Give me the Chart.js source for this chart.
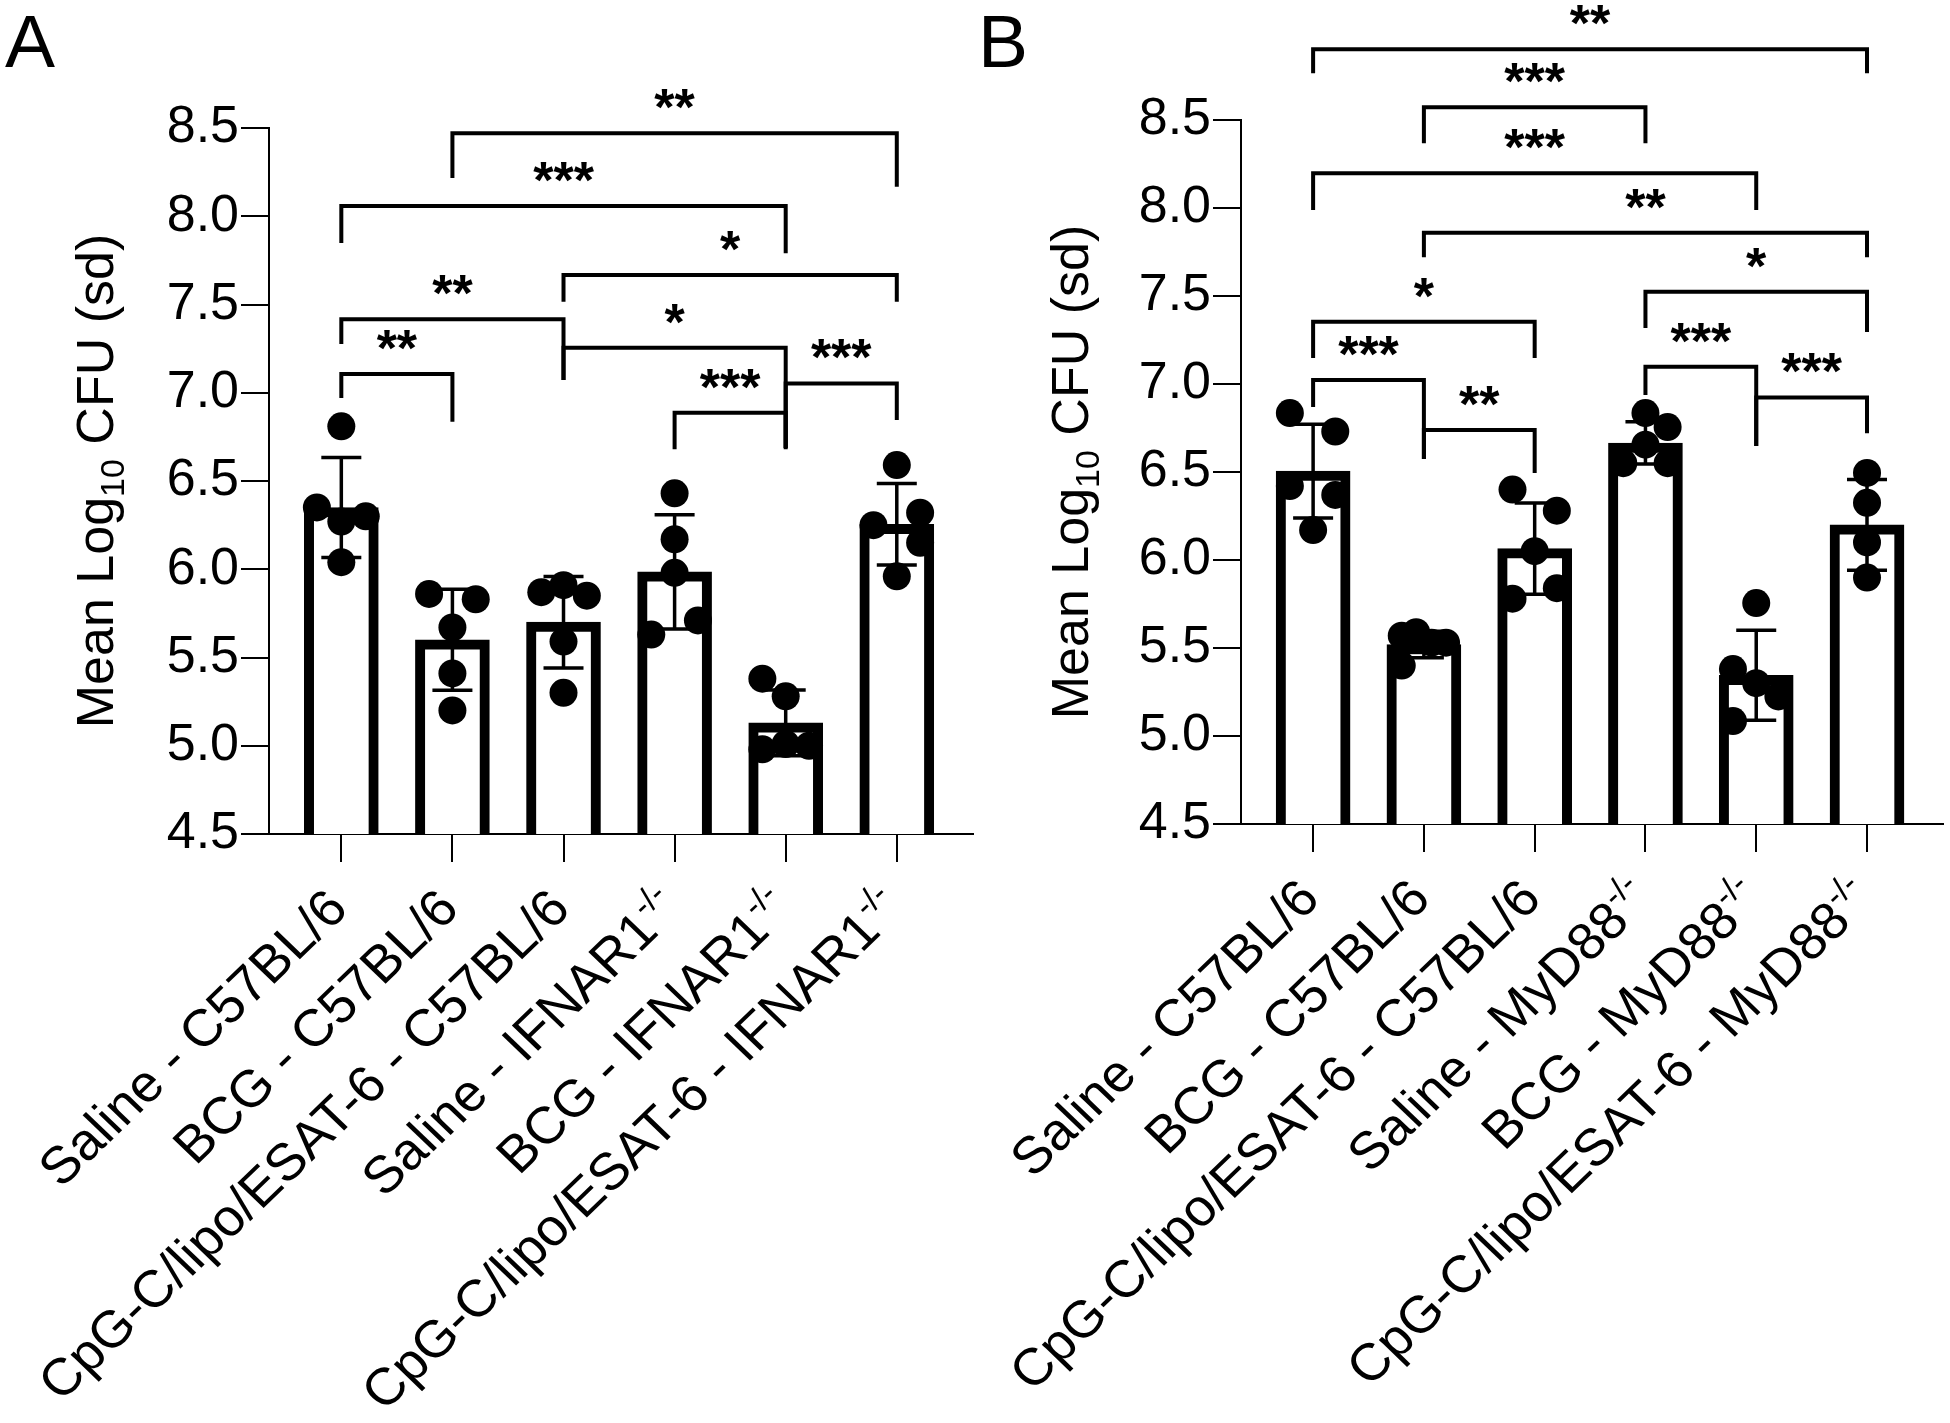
<!DOCTYPE html>
<html lang="en">
<head>
<meta charset="UTF-8">
<title>Mean Log10 CFU</title>
<script src="https://cdn.jsdelivr.net/npm/chart.js@4.4.1/dist/chart.umd.min.js"></script>
<style>
  html, body { margin: 0; padding: 0; background: #fff; }
  #wrap { position: relative; width: 1950px; height: 1423px; }
  .panel { position: absolute; top: 0; width: 975px; height: 1423px; }
  #panelA { left: 0; }
  #panelB { left: 975px; }
</style>
</head>
<body>
<div id="wrap">
  <div class="panel" id="panelA"><canvas id="chartA" width="975" height="1423"></canvas></div>
  <div class="panel" id="panelB"><canvas id="chartB" width="975" height="1423"></canvas></div>
</div>
<script>
// ---------- data ----------
const yTicks = [4.5, 5.0, 5.5, 6.0, 6.5, 7.0, 7.5, 8.0, 8.5];

// Panel A
const groupsA = ['Saline - C57BL/6', 'BCG - C57BL/6', 'CpG-C/lipo/ESAT-6 - C57BL/6',
                 'Saline - IFNAR1', 'BCG - IFNAR1', 'CpG-C/lipo/ESAT-6 - IFNAR1'];
const supA = ['', '', '', '-/-', '-/-', '-/-'];
const meansA = [6.35, 5.60, 5.70, 5.985, 5.13, 6.255];
const sdA = [0.283, 0.286, 0.259, 0.324, 0.186, 0.231];
const pointsA = [
  [6.81, 6.35, 6.27, 6.30, 6.04],
  [5.86, 5.83, 5.67, 5.41, 5.20],
  [5.87, 5.91, 5.85, 5.59, 5.30],
  [6.43, 6.17, 5.98, 5.71, 5.63],
  [5.38, 5.28, 4.98, 5.01, 5.00],
  [6.59, 6.32, 6.25, 6.15, 5.96]
];
// horizontal spread of the dots, in category units
const spreadA = [
  [0, -0.22, 0, 0.22, 0],
  [-0.21, 0.21, 0, 0, 0],
  [-0.2, 0, 0.21, 0, 0],
  [0, 0, 0, 0.21, -0.21],
  [-0.21, 0, -0.21, 0, 0.21],
  [0, 0.21, -0.21, 0.21, 0]
];
const bracketsA = [
  { from: 1, to: 5, y: 8.47,  legL: 8.217, legR: 8.167, text: '**' },
  { from: 0, to: 4, y: 8.058, legL: 7.848, legR: 7.79,  text: '***' },
  { from: 2, to: 5, y: 7.667, legL: 7.516, legR: 7.516, text: '*' },
  { from: 0, to: 2, y: 7.416, legL: 7.276, legR: 7.072, text: '**' },
  { from: 2, to: 4, y: 7.255, legL: 7.072, legR: 6.687, text: '*' },
  { from: 0, to: 1, y: 7.106, legL: 6.97,  legR: 6.836, text: '**' },
  { from: 3, to: 4, y: 6.887, legL: 6.68,  legR: 6.68,  text: '***' },
  { from: 4, to: 5, y: 7.053, legL: 6.687, legR: 6.846, text: '***' }
];

// Panel B
const groupsB = ['Saline - C57BL/6', 'BCG - C57BL/6', 'CpG-C/lipo/ESAT-6 - C57BL/6',
                 'Saline - MyD88', 'BCG - MyD88', 'CpG-C/lipo/ESAT-6 - MyD88'];
const supB = ['', '', '', '-/-', '-/-', '-/-'];
const meansB = [6.505, 5.52, 6.065, 6.665, 5.345, 6.20];
const sdB = [0.267, 0.075, 0.259, 0.12, 0.256, 0.258];
const pointsB = [
  [6.835, 6.73, 6.42, 6.37, 6.17],
  [5.57, 5.59, 5.53, 5.53, 5.40],
  [6.40, 6.28, 6.05, 5.84, 5.78],
  [6.835, 6.755, 6.655, 6.55, 6.55],
  [5.755, 5.38, 5.30, 5.225, 5.085],
  [6.495, 6.325, 6.10, 5.90]
];
const spreadB = [
  [-0.21, 0.2, -0.21, 0.2, 0],
  [-0.2, -0.07, 0.07, 0.2, -0.2],
  [-0.2, 0.2, 0, 0.2, -0.2],
  [0, 0.2, 0, -0.2, 0.2],
  [0, -0.21, 0, 0.2, -0.21],
  [0, 0, 0, 0]
];
const bracketsB = [
  { from: 0, to: 5, y: 8.902, legL: 8.765, legR: 8.765, text: '**' },
  { from: 1, to: 3, y: 8.572, legL: 8.368, legR: 8.368, text: '***' },
  { from: 0, to: 4, y: 8.197, legL: 7.989, legR: 7.989, text: '***' },
  { from: 1, to: 5, y: 7.86,  legL: 7.72,  legR: 7.72,  text: '**' },
  { from: 3, to: 5, y: 7.524, legL: 7.318, legR: 7.295, text: '*' },
  { from: 0, to: 2, y: 7.354, legL: 7.148, legR: 7.148, text: '*' },
  { from: 0, to: 1, y: 7.023, legL: 6.869, legR: 6.574, text: '***' },
  { from: 1, to: 2, y: 6.739, legL: 6.574, legR: 6.494, text: '**' },
  { from: 3, to: 4, y: 7.098, legL: 6.937, legR: 6.648, text: '***' },
  { from: 4, to: 5, y: 6.924, legL: 6.648, legR: 6.72,  text: '***' }
];

// ---------- drawing ----------
const FONT = "'Liberation Sans', Arial, Helvetica, sans-serif";
const LABEL_SIZE = 52;

function makePanel(canvasId, p) {
  const barData = p.means.map((m, i) => ({ x: i, y: m }));
  const dotData = [];
  p.points.forEach((grp, i) => grp.forEach((v, j) => dotData.push({ x: i + p.spread[i][j], y: v })));

  const overlay = {
    id: 'overlay',
    afterDatasetDraw(chart, args) {
      if (args.index !== 0) return;
      // SD error bars, drawn over the bars and under the dots
      const ctx = chart.ctx, xs = chart.scales.x, ys = chart.scales.y;
      ctx.save();
      ctx.strokeStyle = '#000';
      ctx.lineWidth = 3.5;
      p.means.forEach((m, i) => {
        const x = xs.getPixelForValue(i);
        const yt = ys.getPixelForValue(m + p.sd[i]);
        const yb = ys.getPixelForValue(m - p.sd[i]);
        ctx.beginPath();
        ctx.moveTo(x, yt); ctx.lineTo(x, yb);
        ctx.moveTo(x - 20, yt); ctx.lineTo(x + 20, yt);
        ctx.moveTo(x - 20, yb); ctx.lineTo(x + 20, yb);
        ctx.stroke();
      });
      ctx.restore();
    },
    afterDraw(chart) {
      const ctx = chart.ctx, xs = chart.scales.x, ys = chart.scales.y, area = chart.chartArea;
      ctx.save();
      ctx.fillStyle = '#000';
      ctx.strokeStyle = '#000';

      // significance brackets
      ctx.lineWidth = 4;
      ctx.lineJoin = 'miter';
      p.brackets.forEach(b => {
        const x1 = xs.getPixelForValue(b.from), x2 = xs.getPixelForValue(b.to);
        const y = ys.getPixelForValue(b.y);
        ctx.beginPath();
        ctx.moveTo(x1, ys.getPixelForValue(b.legL));
        ctx.lineTo(x1, y);
        ctx.lineTo(x2, y);
        ctx.lineTo(x2, ys.getPixelForValue(b.legR));
        ctx.stroke();
        ctx.font = 'bold 52px ' + FONT;
        ctx.textAlign = 'center';
        ctx.textBaseline = 'alphabetic';
        const m = ctx.measureText(b.text);
        const cy = y - 34;
        ctx.fillText(b.text, (x1 + x2) / 2, cy + (m.actualBoundingBoxAscent - m.actualBoundingBoxDescent) / 2);
      });

      // rotated group labels with superscript genotype
      // (the source figure is slightly wider than tall, so the 45 deg text is stretched a little)
      const capH = 0.716 * LABEL_SIZE;
      p.groups.forEach((name, i) => {
        const x = xs.getPixelForValue(i);
        ctx.save();
        ctx.translate(x - 5, area.bottom + 64);
        ctx.scale(1.04, 1);
        ctx.rotate(-Math.PI / 4);
        ctx.textAlign = 'left';
        ctx.textBaseline = 'alphabetic';
        ctx.font = LABEL_SIZE + 'px ' + FONT;
        const mainW = ctx.measureText(name).width;
        ctx.font = '33px ' + FONT;
        const supW = p.sups[i] ? ctx.measureText(p.sups[i]).width : 0;
        ctx.font = LABEL_SIZE + 'px ' + FONT;
        ctx.fillText(name, -(mainW + supW), capH / 2);
        if (p.sups[i]) {
          ctx.font = '33px ' + FONT;
          ctx.fillText(p.sups[i], -supW, capH / 2 - 21);
        }
        ctx.restore();
      });

      // y axis title with subscript
      const cy = (area.top + area.bottom) / 2;
      ctx.save();
      ctx.translate(113, cy);
      ctx.rotate(-Math.PI / 2);
      ctx.textAlign = 'left';
      ctx.textBaseline = 'alphabetic';
      ctx.font = '52px ' + FONT;
      const w1 = ctx.measureText('Mean Log').width;
      const w3 = ctx.measureText(' CFU (sd)').width;
      ctx.font = '34px ' + FONT;
      const w2 = ctx.measureText('10').width;
      const x0 = -(w1 + w2 + w3) / 2;
      ctx.font = '52px ' + FONT;
      ctx.fillText('Mean Log', x0, 0);
      ctx.fillText(' CFU (sd)', x0 + w1 + w2, 0);
      ctx.font = '34px ' + FONT;
      ctx.fillText('10', x0 + w1, 11);
      ctx.restore();

      // panel letter
      ctx.font = '75px ' + FONT;
      ctx.textAlign = 'left';
      ctx.fillText(p.letter, p.letterX, 67);
      ctx.restore();
    }
  };

  return new Chart(document.getElementById(canvasId), {
    data: {
      datasets: [
        {
          type: 'bar',
          data: barData,
          backgroundColor: '#fff',
          borderColor: '#000',
          borderWidth: 10,
          barThickness: 74,
          order: 2
        },
        {
          type: 'scatter',
          data: dotData,
          pointRadius: 14,
          pointBackgroundColor: '#000',
          pointBorderWidth: 0,
          clip: false,
          order: 1
        }
      ]
    },
    options: {
      responsive: false,
      animation: false,
      devicePixelRatio: 1,
      events: [],
      layout: {
        autoPadding: false,
        padding: { left: 0, top: p.padTop, right: p.padRight, bottom: 0 }
      },
      plugins: { legend: { display: false }, tooltip: { enabled: false } },
      scales: {
        x: {
          type: 'linear',
          offset: false,
          min: -0.651,
          max: 5.686,
          afterBuildTicks: s => { s.ticks = p.groups.map((g, i) => ({ value: i })); },
          afterFit: s => { s.height = p.xHeight; },
          ticks: { display: false },
          grid: { offset: false, drawOnChartArea: false, drawTicks: true, tickLength: 28, color: '#000', lineWidth: 2 },
          border: { display: true, color: '#000', width: 2 }
        },
        y: {
          type: 'linear',
          min: 4.5,
          max: 8.5,
          afterBuildTicks: s => { s.ticks = yTicks.map(v => ({ value: v })); },
          afterFit: s => { s.width = p.yWidth; },
          ticks: {
            callback: v => v.toFixed(1),
            color: '#000',
            padding: 2,
            font: { family: FONT, size: 52 }
          },
          grid: { drawOnChartArea: false, drawTicks: true, tickLength: 28, color: '#000', lineWidth: 2 },
          border: { display: true, color: '#000', width: 2 }
        }
      }
    },
    plugins: [overlay]
  });
}

makePanel('chartA', {
  groups: groupsA, sups: supA, means: meansA, sd: sdA, points: pointsA, spread: spreadA,
  brackets: bracketsA, letter: 'A', letterX: 5,
  padTop: 128, padRight: 2, yWidth: 269, xHeight: 589
});
makePanel('chartB', {
  groups: groupsB, sups: supB, means: meansB, sd: sdB, points: pointsB, spread: spreadB,
  brackets: bracketsB, letter: 'B', letterX: 3,
  padTop: 120, padRight: 7, yWidth: 266, xHeight: 599
});
</script>
</body>
</html>
